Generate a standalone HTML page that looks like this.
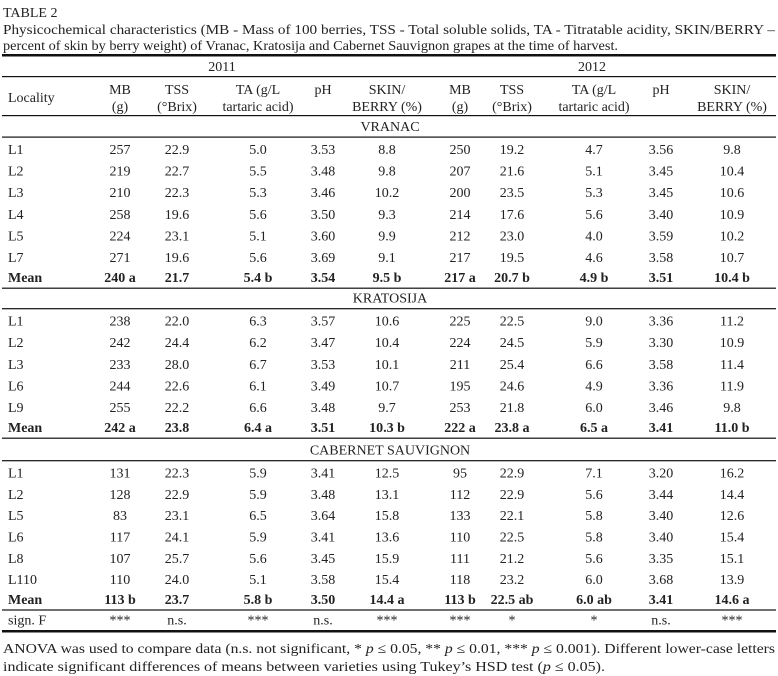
<!DOCTYPE html>
<html><head><meta charset="utf-8"><style>
html,body{margin:0;padding:0;background:#fff;}
svg{display:block;font-family:"Liberation Serif",serif;font-size:14px;fill:#222;}
</style></head><body>
<svg id="t" width="778" height="676" viewBox="0 0 778 676" xmlns="http://www.w3.org/2000/svg">
<text x="3" y="17">TABLE 2</text>
<text x="3" y="34" textLength="772" lengthAdjust="spacingAndGlyphs">Physicochemical characteristics (MB - Mass of 100 berries, TSS - Total soluble solids, TA - Titratable acidity, SKIN/BERRY –</text>
<text x="3" y="50" textLength="615" lengthAdjust="spacingAndGlyphs">percent of skin by berry weight) of Vranac, Kratosija and Cabernet Sauvignon grapes at the time of harvest.</text>
<rect x="2" y="54" width="774" height="2.5" fill="#111"/>
<text x="222" y="71" text-anchor="middle">2011</text>
<text x="592" y="71" text-anchor="middle">2012</text>
<rect x="2" y="76" width="774" height="1.2" fill="#111"/>
<text x="8" y="102">Locality</text>
<rect x="2" y="115" width="774" height="1.2" fill="#111"/>
<rect x="2" y="630" width="774" height="2.5" fill="#111"/>
<text x="3" y="653" textLength="772" lengthAdjust="spacingAndGlyphs">ANOVA was used to compare data (n.s. not significant, * <tspan font-style="italic">p</tspan> ≤ 0.05, ** <tspan font-style="italic">p</tspan> ≤ 0.01, *** <tspan font-style="italic">p</tspan> ≤ 0.001). Different lower-case letters</text>
<text x="3" y="671" textLength="602" lengthAdjust="spacingAndGlyphs">indicate significant differences of means between varieties using Tukey’s HSD test (<tspan font-style="italic">p</tspan> ≤ 0.05).</text>
</svg>
<script>
const colX=[120,177,258,323,387,460,512,594,661,732];
const head1=["MB","TSS","TA (g/L","pH","SKIN/","MB","TSS","TA (g/L","pH","SKIN/"];
const head2=["(g)","(°Brix)","tartaric acid)","","BERRY (%)","(g)","(°Brix)","tartaric acid)","","BERRY (%)"];
const vranac=[["L1","257","22.9","5.0","3.53","8.8","250","19.2","4.7","3.56","9.8"],["L2","219","22.7","5.5","3.48","9.8","207","21.6","5.1","3.45","10.4"],["L3","210","22.3","5.3","3.46","10.2","200","23.5","5.3","3.45","10.6"],["L4","258","19.6","5.6","3.50","9.3","214","17.6","5.6","3.40","10.9"],["L5","224","23.1","5.1","3.60","9.9","212","23.0","4.0","3.59","10.2"],["L7","271","19.6","5.6","3.69","9.1","217","19.5","4.6","3.58","10.7"],["Mean","240 a","21.7","5.4 b","3.54","9.5 b","217 a","20.7 b","4.9 b","3.51","10.4 b"]];
const kratosija=[["L1","238","22.0","6.3","3.57","10.6","225","22.5","9.0","3.36","11.2"],["L2","242","24.4","6.2","3.47","10.4","224","24.5","5.9","3.30","10.9"],["L3","233","28.0","6.7","3.53","10.1","211","25.4","6.6","3.58","11.4"],["L6","244","22.6","6.1","3.49","10.7","195","24.6","4.9","3.36","11.9"],["L9","255","22.2","6.6","3.48","9.7","253","21.8","6.0","3.46","9.8"],["Mean","242 a","23.8","6.4 a","3.51","10.3 b","222 a","23.8 a","6.5 a","3.41","11.0 b"]];
const cabernet=[["L1","131","22.3","5.9","3.41","12.5","95","22.9","7.1","3.20","16.2"],["L2","128","22.9","5.9","3.48","13.1","112","22.9","5.6","3.44","14.4"],["L5","83","23.1","6.5","3.64","15.8","133","22.1","5.8","3.40","12.6"],["L6","117","24.1","5.9","3.41","13.6","110","22.5","5.8","3.40","15.4"],["L8","107","25.7","5.6","3.45","15.9","111","21.2","5.6","3.35","15.1"],["L110","110","24.0","5.1","3.58","15.4","118","23.2","6.0","3.68","13.9"],["Mean","113 b","23.7","5.8 b","3.50","14.4 a","113 b","22.5 ab","6.0 ab","3.41","14.6 a"]];
const signF=["sign. F","***","n.s.","***","n.s.","***","***","*","*","n.s.","***"];
const svg=document.getElementById('t');
const NS="http://www.w3.org/2000/svg";
function txt(x,y,s,anchor,bold){const t=document.createElementNS(NS,'text');t.setAttribute('x',x);t.setAttribute('y',y);if(anchor)t.setAttribute('text-anchor',anchor);if(bold)t.setAttribute('font-weight','bold');t.textContent=s;svg.appendChild(t);return t;}
function rule(y){const r=document.createElementNS(NS,'rect');r.setAttribute('x',2);r.setAttribute('y',y);r.setAttribute('width',774);r.setAttribute('height',1.2);r.setAttribute('fill','#111');svg.appendChild(r);return r;}
head1.forEach((h,i)=>{const e=txt(colX[i],94,h,'middle');

});
head2.forEach((h,i)=>{if(!h)return;const e=txt(colX[i],111,h,'middle');

});
function section(name,y0,rows,step){
 const s=txt(390,y0+5,name,'middle');
 
 
 const r1=rule(y0+10.5);
 
 
 let y=y0+23;
 rows.forEach((row,ri)=>{const bold=row[0]==="Mean";const yy=bold?y-1.5:y;
  const l=txt(8,yy+5,row[0],null,bold);
  
  
  for(let c=1;c<row.length;c++){const e=txt(colX[c-1],yy+5,row[c],'middle',bold);
   
   }
  y+=step;});
 const r2=rule(y-step+9);
 
 
 return y-step+9;
}
let e1=section("VRANAC",126,vranac,21.6);
let e2=section("KRATOSIJA",e1+10,kratosija,21.6);
let e3=section("CABERNET SAUVIGNON",e2+12,cabernet,21.3);
const sy=e3+15;
const sl=txt(8,sy,signF[0]);


for(let c=1;c<signF.length;c++){const e=txt(colX[c-1],sy,signF[c],'middle');
 
 }
</script>
</body></html>
